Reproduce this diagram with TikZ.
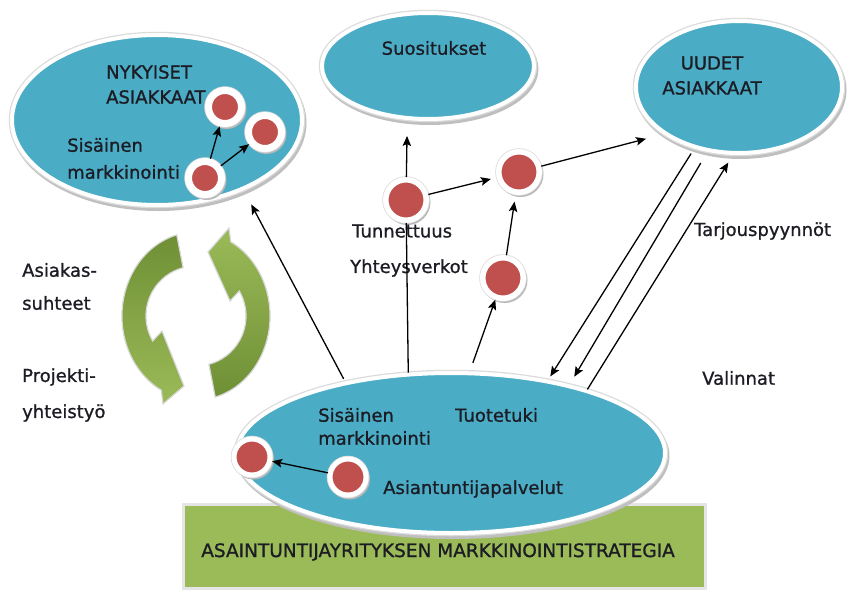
\documentclass[tikz,border=0pt]{standalone}
\usepackage{fontspec}
\setmainfont{DejaVu Sans}[FakeBold=1]
\usetikzlibrary{shapes.geometric,arrows.meta}
\definecolor{aqua}{HTML}{4BACC6}
\definecolor{dotred}{HTML}{C0504D}
\definecolor{olivegr}{HTML}{9BBB59}
\definecolor{darkolive}{HTML}{6F8F35}
\definecolor{txt}{HTML}{1C1C24}
\tikzset{
  blob/.style={ellipse, inner sep=0pt, fill=aqua, draw=white, line width=4pt,
    preaction={fill=black!25, draw=black!25, line width=6pt, transform canvas={shift={(1.5pt,-3pt)}}},
    preaction={draw=black!14, line width=6.5pt}},
  dotN/.style={circle, inner sep=0pt, fill=dotred, draw=white, minimum size=33pt, line width=7pt,
    preaction={fill=black!28, draw=black!28, line width=7pt, transform canvas={shift={(1.5pt,-2pt)}}},
    preaction={draw=black!14, line width=8.5pt}},
  dotM/.style={circle, inner sep=0pt, fill=dotred, draw=white, minimum size=40.5pt, line width=5.5pt,
    preaction={fill=black!28, draw=black!28, line width=5.5pt, transform canvas={shift={(1.5pt,-2pt)}}},
    preaction={draw=black!14, line width=7pt}},
  dotB/.style={circle, inner sep=0pt, fill=dotred, draw=white, minimum size=36pt, line width=5pt,
    preaction={fill=black!28, draw=black!28, line width=5pt, transform canvas={shift={(1.5pt,-2pt)}}},
    preaction={draw=black!14, line width=6.5pt}},
  lbl/.style={inner sep=0pt, text=txt, font=\fontsize{18}{22}\selectfont},
  ln/.style={line width=1.3pt, draw=black},
  arr/.style={ln, -{Stealth[length=10pt,width=8.5pt,inset=2pt]}},
  recyc/.style={draw=black!15, line width=1.2pt},
}
\begin{document}
\begin{tikzpicture}[x=1pt,y=-1pt]
\useasboundingbox[fill=white] (0,0) rectangle (848,592);

% strategy bar
\node[draw=black!10, line width=3pt, fill=olivegr, minimum width=522pt, minimum height=84pt, inner sep=0pt] (strat) at (444,546) {};
\node[lbl, font=\fontsize{18.5}{22}\selectfont] (stratT) at (438,552) {ASAINTUNTIJAYRITYKSEN MARKKINOINTISTRATEGIA};

% recycle arrows
\shade[recyc, top color=darkolive, middle color=white!88!olivegr, bottom color=olivegr]
  (176.8,234.9) arc[start angle=255, end angle=118, x radius=74, y radius=84]
  -- (163,404) -- (184,386) -- (162,331) -- (152.7,341)
  arc[start angle=150, end angle=255, x radius=50, y radius=50] -- cycle;
\shade[recyc, top color=olivegr, middle color=white!88!olivegr, bottom color=darkolive]
  (215.2,397.1) arc[start angle=75, end angle=-62, x radius=74, y radius=84]
  -- (229,228) -- (208,252) -- (230,301) -- (239.3,291)
  arc[start angle=-30, end angle=75, x radius=50, y radius=50] -- cycle;

% ellipses
\node[blob, minimum width=290pt, minimum height=170pt] (nyk) at (157,120) {};
\node[blob, minimum width=212pt, minimum height=106pt] (suo) at (428,66) {};
\node[blob, minimum width=206pt, minimum height=132pt] (uud) at (739,87) {};
\node[blob, minimum width=428pt, minimum height=160pt] (bot) at (451,453) {};

% dots
\node[dotN] (n1) at (225,107) {};
\node[dotN] (n2) at (265,132) {};
\node[dotN] (n3) at (205,178) {};
\node[dotM] (dA) at (406,200) {};
\node[dotM] (dB) at (519,172) {};
\node[dotM] (dC) at (503,278) {};
\node[dotB] (bL) at (252,457) {};
\node[dotB] (bR) at (348,477) {};

% labels
\node[lbl, anchor=west, align=left, font=\fontsize{18}{25}\selectfont] (tN1) at (106,84.5) {NYKYISET\\ASIAKKAAT};
\node[lbl, anchor=west, align=left, font=\fontsize{18}{27}\selectfont] (tN2) at (67,158.5) {Sisäinen\\markkinointi};
\node[lbl] (tS) at (434,48) {Suositukset};
\node[lbl, align=center, font=\fontsize{18}{25}\selectfont] (tU) at (712,75.5) {UUDET\\ASIAKKAAT};
\node[lbl, anchor=west, align=left, font=\fontsize{18}{23}\selectfont] (tB1) at (318,426.5) {Sisäinen\\markkinointi};
\node[lbl, anchor=west] (tB2) at (455,415) {Tuotetuki};
\node[lbl, anchor=west] (tB3) at (383,489) {Asiantuntijapalvelut};
\node[lbl, anchor=west] (tT) at (352,231) {Tunnettuus};
\node[lbl, anchor=west] (tY) at (350,268) {Yhteysverkot};
\node[lbl, anchor=west] (tTa) at (694,231) {Tarjouspyynnöt};
\node[lbl, anchor=west] (tV) at (702,378) {Valinnat};
\node[lbl, anchor=west, align=left, font=\fontsize{18}{33}\selectfont] (tA) at (22,286.5) {Asiakas-\\suhteet};
\node[lbl, anchor=west, align=left, font=\fontsize{18}{36}\selectfont] (tP) at (22,395) {Projekti-\\yhteistyö};

% connectors
\draw[arr] (n3) -- (n1);
\draw[arr] (n3) -- (n2);
\draw[arr] (bR) -- (bL);
\draw[arr, shorten <=3pt, shorten >=16pt] (bot.146) -- (nyk.-39.5);
\draw[ln] (bot.118) -- (dA);
\draw[arr, shorten >=16pt] (dA) -- (suo.-111);
\draw[arr, shorten >=6pt] (dA) -- (dB);
\draw[arr, shorten >=18pt] (dB) -- (uud.-148);
\draw[arr, shorten >=7pt] (dC) -- (dB);
\draw[arr, shorten <=9pt] (bot.77) -- (dC);
\draw[arr, shorten <=6pt, shorten >=4pt] (uud.-126) -- (bot.37);
\draw[arr, shorten <=13pt, shorten >=9pt] (uud.-116) -- (bot.30);
\draw[arr, shorten >=9pt] (bot.25) -- (uud.-95);
\end{tikzpicture}
\end{document}
